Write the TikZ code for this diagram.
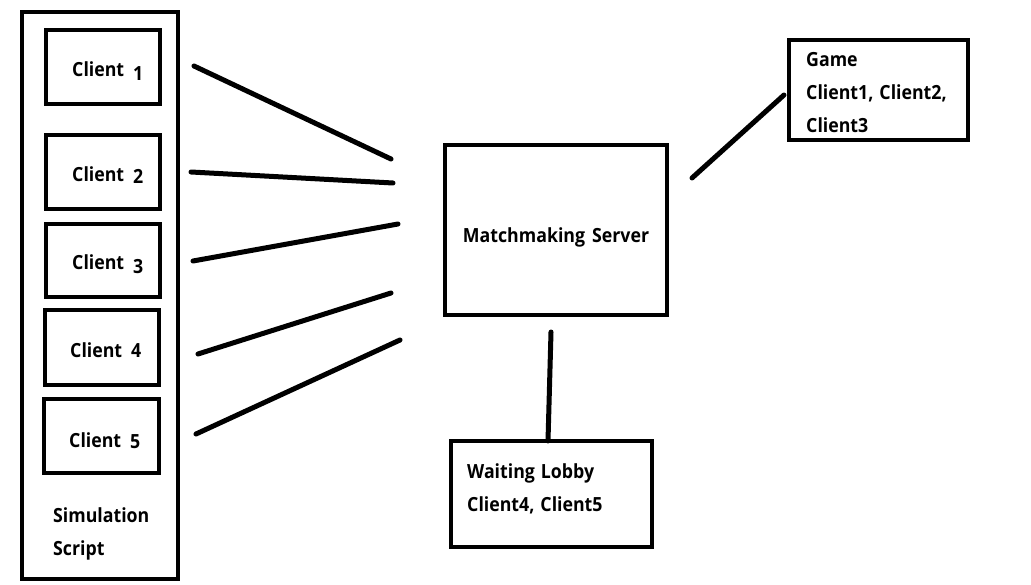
\documentclass[tikz,border=0pt]{standalone}
\usepackage{fontspec}
\newfontfamily\lblfont{Open Sans}[FakeStretch=0.91]
\begin{document}
\begin{tikzpicture}[x=1pt,y=-1pt,
  box/.style={draw=black,line width=4.6pt,inner sep=0pt,outer sep=0pt,fill=none},
  lbl/.style={inner sep=0pt,anchor=base west,font=\fontsize{19.5}{33}\selectfont\lblfont\bfseries,align=left},
  conn/.style={line width=5pt,line cap=round}]
\useasboundingbox[fill=white] (0,0) rectangle (1031,585);
% boxes
\node[box,minimum width=156pt,minimum height=567pt,anchor=north west] (sim) at (22,12) {};
\node[box,minimum width=114pt,minimum height=74pt,anchor=north west] (c1) at (46,30) {};
\node[box,minimum width=114pt,minimum height=74pt,anchor=north west] (c2) at (46,135) {};
\node[box,minimum width=114pt,minimum height=73pt,anchor=north west] (c3) at (46,224) {};
\node[box,minimum width=114pt,minimum height=75pt,anchor=north west] (c4) at (45,310) {};
\node[box,minimum width=115pt,minimum height=74pt,anchor=north west] (c5) at (44,399) {};
\node[box,minimum width=222pt,minimum height=170pt,anchor=north west] (mm) at (445,145) {};
\node[box,minimum width=201pt,minimum height=106pt,anchor=north west] (lobby) at (451,441) {};
\node[box,minimum width=179pt,minimum height=100pt,anchor=north west] (game) at (789,40) {};
% texts
\node[lbl] (t1) at (72,77) {Client\hspace{9pt}\raisebox{-4pt}{1}};
\node[lbl] (t2) at (72,182) {Client\hspace{9pt}\raisebox{-2pt}{2}};
\node[lbl] (t3) at (72,270) {Client\hspace{9pt}\raisebox{-4pt}{3}};
\node[lbl] (t4) at (70,358) {Client\hspace{9pt}4};
\node[lbl] (t5) at (69,447) {Client\hspace{9pt}\raisebox{-1pt}{5}};
\node[lbl] (tsim) at (53,555) {Simulation\\Script};
\node[lbl,anchor=base] (tmm) at (556,243) {Matchmaking\hspace{7pt}Server};
\node[lbl] (tlobby) at (467,511) {Waiting\hspace{6pt}Lobby\\Client4,\hspace{6pt}Client5};
\node[lbl] (tgame) at (806,133) {Game\\Client1,\hspace{6pt}Client2,\\Client3};
% connector end points
\coordinate (a1) at (194,66);  \coordinate (b1) at (391,159);
\coordinate (a2) at (191,172); \coordinate (b2) at (393,183);
\coordinate (a3) at (193,261); \coordinate (b3) at (398,224);
\coordinate (a4) at (198,354); \coordinate (b4) at (391,293);
\coordinate (a5) at (196,434); \coordinate (b5) at (400,340);
\coordinate (g1) at (692,178); \coordinate (g2) at (784,95);
\coordinate (l1) at (551,332);
\draw[conn] (a1) -- (b1);
\draw[conn] (a2) -- (b2);
\draw[conn] (a3) -- (b3);
\draw[conn] (a4) -- (b4);
\draw[conn] (a5) -- (b5);
\draw[conn] (g1) -- (g2);
\draw[conn] (l1) -- (lobby.north -| 548,0);
\end{tikzpicture}
\end{document}
